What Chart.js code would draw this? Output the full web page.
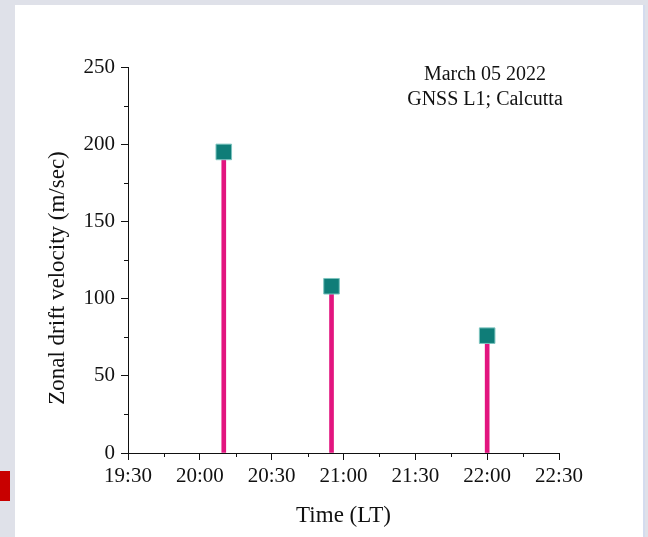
<!DOCTYPE html>
<html>
<head>
<meta charset="utf-8">
<script src="https://cdn.jsdelivr.net/npm/chart.js@4.4.1/dist/chart.umd.min.js"></script>
<style>
  html, body { margin: 0; padding: 0; }
  body { width: 648px; height: 537px; background: #dfe1e9; position: relative; overflow: hidden; }
  .panel { position: absolute; left: 15px; top: 5px; width: 628px; height: 532px; background: #ffffff; border-right: 2px solid #d4dcef; }
  .marca { position: absolute; left: 0; top: 471px; width: 10px; height: 30px; background: #c80000; }
  #grafico { position: absolute; left: 0; top: 0; }
</style>
</head>
<body>
<div class="panel"></div>
<div class="marca"></div>
<canvas id="grafico" width="648" height="537"></canvas>
<script>
// =======================
// DATOS
// =======================
// hora local en minutos desde medianoche (20:10, 20:55, 22:00)
const tiempos = [1210, 1255, 1320];
const velocidades = [195, 108, 76];

const etiquetasX = ["19:30", "20:00", "20:30", "21:00", "21:30", "22:00", "22:30"];
const ticksY = [0, 50, 100, 150, 200, 250];

const xMin = 1170;
const xPaso = 30;
const xMax = xMin + xPaso * (etiquetasX.length - 1);

const FUENTE = "'Liberation Serif', 'Times New Roman', serif";
const NEGRO = "#111111";
const ROSA = "#e2157f";
const VERDE = "#0f7d78";

const puntos = tiempos.map((t, i) => ({ x: t, y: velocidades[i] }));

// =======================
// PLUGINS
// =======================
// ticks menores (cada 15 min y cada 25 m/s)
const ticksMenores = {
  id: "ticksMenores",
  afterDraw(chart) {
    const { ctx, scales: { x, y }, chartArea } = chart;
    ctx.save();
    ctx.strokeStyle = NEGRO;
    ctx.lineWidth = 1;
    ctx.beginPath();
    for (let v = xMin + xPaso / 2; v < xMax; v += xPaso) {
      const px = Math.round(x.getPixelForValue(v)) + 0.5;
      ctx.moveTo(px, chartArea.bottom);
      ctx.lineTo(px, chartArea.bottom + 4);
    }
    for (let i = 0; i < ticksY.length - 1; i++) {
      const v = (ticksY[i] + ticksY[i + 1]) / 2;
      const py = Math.round(y.getPixelForValue(v)) + 0.5;
      ctx.moveTo(chartArea.left - 4, py);
      ctx.lineTo(chartArea.left, py);
    }
    ctx.stroke();
    ctx.restore();
  }
};

// titulo del eje Y y leyenda de texto
const textos = {
  id: "textos",
  afterDraw(chart) {
    const { ctx } = chart;
    ctx.save();
    ctx.fillStyle = NEGRO;
    ctx.textAlign = "center";
    ctx.textBaseline = "middle";

    ctx.font = "23px " + FUENTE;
    ctx.translate(58, 278);
    ctx.rotate(-Math.PI / 2);
    ctx.fillText("Zonal drift velocity (m/sec)", 0, 0);
    ctx.setTransform(1, 0, 0, 1, 0, 0);

    ctx.font = "20px " + FUENTE;
    ctx.fillText("March 05 2022", 485, 75);
    ctx.fillText("GNSS L1; Calcutta", 485, 100);
    ctx.restore();
  }
};

// =======================
// GRAFICO
// =======================
new Chart(document.getElementById("grafico"), {
  type: "bar",
  data: {
    datasets: [
      {
        type: "scatter",
        data: puntos,
        pointStyle: "rect",
        pointRadius: 11,
        pointHoverRadius: 11,
        backgroundColor: VERDE,
        borderColor: "#7cc4bf",
        borderWidth: 1
      },
      {
        type: "bar",
        data: puntos,
        backgroundColor: ROSA,
        barThickness: 4,
        borderWidth: 0
      }
    ]
  },
  options: {
    responsive: false,
    animation: false,
    layout: { padding: { left: 0, top: 67, right: 89, bottom: 0 } },
    plugins: {
      legend: { display: false },
      tooltip: { enabled: false }
    },
    scales: {
      x: {
        type: "linear",
        position: "bottom",
        min: xMin,
        max: xMax,
        offset: false,
        grid: { offset: false, drawOnChartArea: false, tickLength: 7, color: NEGRO, tickColor: NEGRO },
        border: { color: NEGRO, width: 1 },
        ticks: {
          stepSize: xPaso,
          autoSkip: false,
          maxRotation: 0,
          padding: 4,
          color: NEGRO,
          font: { family: FUENTE, size: 21 },
          callback: v => etiquetasX[Math.round((v - xMin) / xPaso)]
        },
        title: {
          display: true,
          text: "Time (LT)",
          color: NEGRO,
          font: { family: FUENTE, size: 23 },
          padding: { top: 0, bottom: 7 }
        },
        afterFit: s => { s.height = 84; }
      },
      y: {
        min: ticksY[0],
        max: ticksY[ticksY.length - 1],
        grid: { drawOnChartArea: false, tickLength: 7, color: NEGRO, tickColor: NEGRO },
        border: { color: NEGRO, width: 1 },
        ticks: {
          stepSize: ticksY[1] - ticksY[0],
          padding: 6,
          color: NEGRO,
          font: { family: FUENTE, size: 21 }
        },
        afterFit: s => { s.width = 128; }
      }
    }
  },
  plugins: [ticksMenores, textos]
});
</script>
</body>
</html>
